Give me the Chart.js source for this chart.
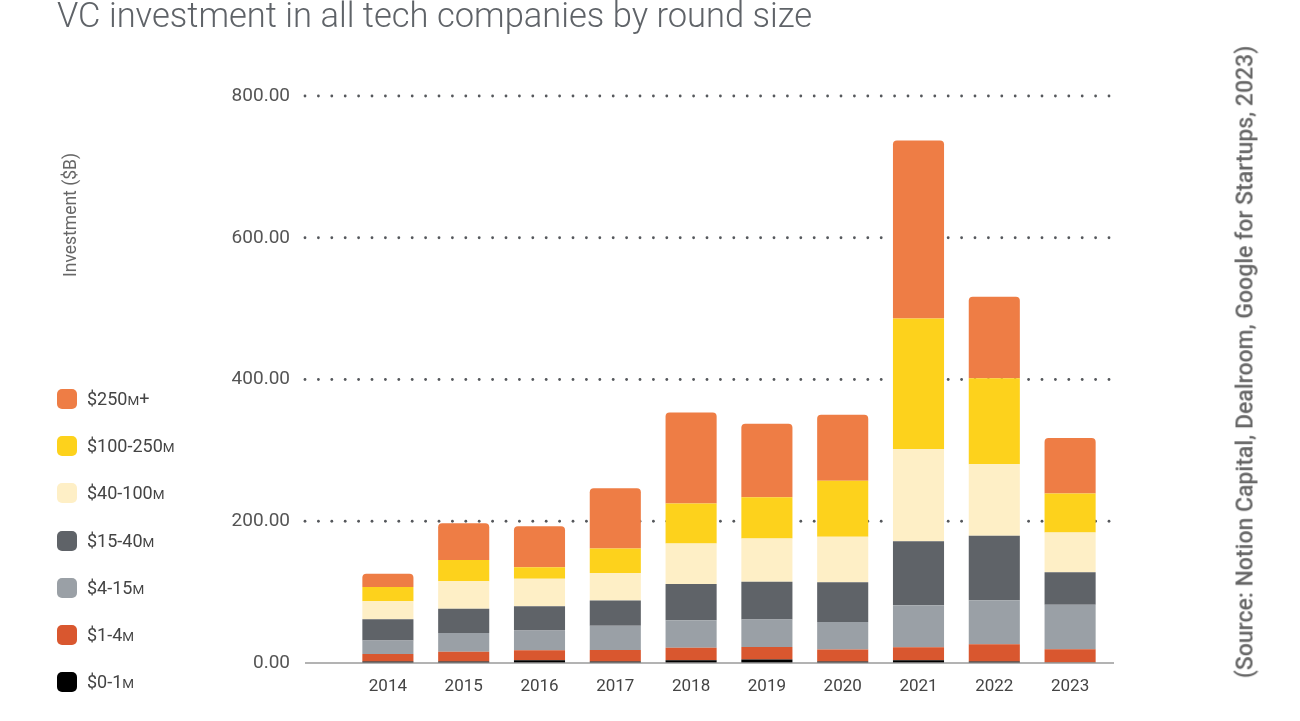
<!DOCTYPE html>
<html>
<head>
<meta charset="utf-8">
<script src="https://cdn.jsdelivr.net/npm/chart.js@4/dist/chart.umd.min.js"></script>
<style>
  body { margin: 0; background: #fff; font-family: Roboto, sans-serif; }
  #wrap { position: relative; width: 1300px; height: 721px; overflow: hidden; }
  canvas { position: absolute; left: 0; top: 0; }
  .title { position: absolute; left: 57px; top: -5px; font-size: 34.5px; font-weight: 300; color: #5f6368; white-space: nowrap; }
  .ylab { position: absolute; left: 70px; top: 215px; transform: translate(-50%, -50%) rotate(-90deg); font-size: 17.5px; font-weight: 400; color: #666; white-space: nowrap; }
  .source { position: absolute; left: 1245px; top: 362px; transform: translate(-50%, -50%) rotate(-90deg); font-size: 23px; font-weight: 500; color: #666; white-space: nowrap; }
  .legend { position: absolute; left: 57px; top: 389px; }
  .legend div { height: 47.2px; display: flex; align-items: flex-start; font-size: 18px; line-height: 20px; color: #444; }
  .legend span.sw { width: 20px; height: 20px; border-radius: 5px; margin-right: 10px; display: inline-block; }
  .legend small { font-size: 13.5px; }
</style>
</head>
<body>
<div id="wrap">
  <canvas id="myChart" width="1300" height="721"></canvas>
  <div class="title">VC investment in all tech companies by round size</div>
  <div class="ylab">Investment ($B)</div>
  <div class="source">(Source: Notion Capital, Dealroom, Google for Startups, 2023)</div>
  <div class="legend" id="legend"></div>
</div>
<script>
// 연도
const years = ['2014', '2015', '2016', '2017', '2018', '2019', '2020', '2021', '2022', '2023'];
const yTicks = [0, 200, 400, 600, 800];

// 라운드 규모별 투자액 ($B), 아래에서 위 순서
const r0to1 = [2, 2, 4, 2, 4, 5, 2, 4, 2, 0.5];
const r1to4 = [10.7, 13.7, 14, 16.5, 17.4, 17.4, 17, 18.3, 24.4, 18.8];
const r4to15 = [18.9, 26.8, 28, 33.9, 39, 39, 38.7, 59.3, 62, 63];
const r15to40 = [30, 33.9, 34, 35.7, 51.2, 53.2, 56.4, 90.3, 91.3, 45.6];
const r40to100 = [25.4, 39, 39, 39, 57, 61, 64, 129.8, 100.6, 56.4];
const r100to250 = [20.2, 30, 16, 34.3, 56.4, 58.3, 79, 184.4, 121.3, 55];
const r250plus = [18.9, 51.8, 58, 85.2, 128.4, 103.6, 93, 251, 115.3, 78.2];

const series = [
    { label: '$0-1M', data: r0to1, color: '#000000' },
    { label: '$1-4M', data: r1to4, color: '#d9572f' },
    { label: '$4-15M', data: r4to15, color: '#9aa0a6' },
    { label: '$15-40M', data: r15to40, color: '#5f6368' },
    { label: '$40-100M', data: r40to100, color: '#feefc6' },
    { label: '$100-250M', data: r100to250, color: '#fdd21c' },
    { label: '$250M+', data: r250plus, color: '#ee7d45' },
];

// 점선 그리드 + 기준선
const dotGrid = {
    id: 'dotGrid',
    beforeDatasetsDraw(chart) {
        const { ctx, scales: { y } } = chart;
        ctx.save();
        ctx.fillStyle = '#55585c';
        yTicks.forEach(v => {
            if (v === 0) return;
            const py = y.getPixelForValue(v);
            for (let x = 305; x <= 1110; x += 13.4) {
                ctx.beginPath();
                ctx.arc(x, py, 1.4, 0, Math.PI * 2);
                ctx.fill();
            }
        });
        ctx.restore();
    },
    afterDatasetsDraw(chart) {
        const { ctx, scales: { y } } = chart;
        const py = y.getPixelForValue(0);
        ctx.save();
        ctx.strokeStyle = '#9a9a9a';
        ctx.lineWidth = 1.5;
        ctx.beginPath();
        ctx.moveTo(305, py);
        ctx.lineTo(1114, py);
        ctx.stroke();
        ctx.restore();
    }
};

const ctx = document.getElementById('myChart').getContext('2d');
const myChart = new Chart(ctx, {
    type: 'bar',
    data: {
        labels: years,
        datasets: series.map((s, i) => ({
            label: s.label,
            data: s.data,
            backgroundColor: s.color,
            borderWidth: 0,
            borderRadius: i === series.length - 1 ? { topLeft: 4, topRight: 4, bottomLeft: 0, bottomRight: 0 } : 0,
            borderSkipped: false,
            barPercentage: 0.674,
            categoryPercentage: 1,
        }))
    },
    options: {
        responsive: false,
        animation: false,
        layout: { padding: { top: 96, right: 192, left: 0, bottom: 0 } },
        plugins: {
            legend: { display: false },
            tooltip: { enabled: false },
        },
        scales: {
            x: {
                stacked: true,
                grid: { display: false },
                border: { display: false },
                ticks: { color: '#444', font: { family: 'Roboto', size: 17 }, padding: 6 },
                afterFit(scale) { scale.height = 58; }
            },
            y: {
                stacked: true,
                min: 0,
                max: 800,
                grid: { display: false, drawTicks: false },
                border: { display: false },
                ticks: {
                    stepSize: 200,
                    padding: 60,
                    color: '#555',
                    font: { family: 'Roboto', size: 19 },
                    callback: v => v.toFixed(2)
                },
                afterFit(scale) {
                    scale.width = 350;
                    // 틱 padding 때문에 위/아래 여백이 커지는 것 방지
                    scale.paddingTop = 0;
                    scale.paddingBottom = 0;
                }
            }
        }
    },
    plugins: [dotGrid]
});

// HTML 범례 (위에서 아래: 큰 라운드부터)
const legendEl = document.getElementById('legend');
series.slice().reverse().forEach(s => {
    const row = document.createElement('div');
    const txt = s.label.replace('M', '<small>M</small>');
    row.innerHTML = '<span class="sw" style="background:' + s.color + '"></span><span>' + txt + '</span>';
    legendEl.appendChild(row);
});
</script>
</body>
</html>
